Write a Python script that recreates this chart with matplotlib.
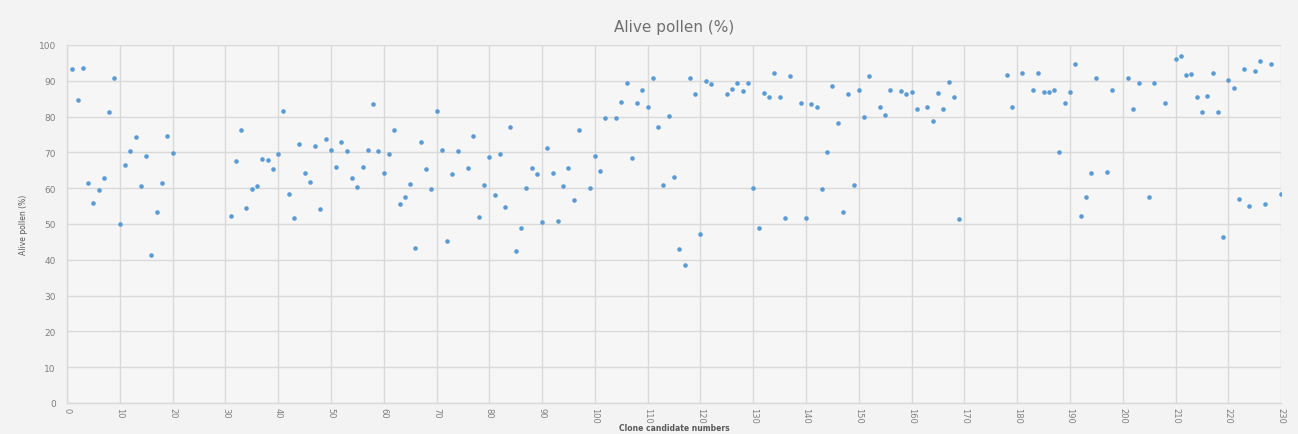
import numpy as np
import matplotlib
matplotlib.use('Agg')
import matplotlib.pyplot as plt

# Clone candidate numbers and alive pollen percentages
clone_a = [1, 2, 3, 4, 5, 6, 7, 8, 9, 10, 11, 12, 13, 14, 15, 16, 17, 18, 19, 20]
pollen_a = [93.2, 84.6, 93.7, 61.5, 55.9, 59.4, 62.9, 81.4, 90.9, 50.0,
            66.4, 70.3, 74.2, 60.6, 68.9, 41.4, 53.4, 61.5, 74.5, 69.8]

clone_b = [31, 32, 33, 34, 35, 36, 37, 38, 39, 40, 41, 42, 43, 44, 45, 46, 47, 48, 49, 50,
           51, 52, 53, 54, 55, 56, 57, 58, 59, 60, 61, 62, 63, 64, 65, 66, 67, 68, 69, 70,
           71, 72, 73, 74, 76, 77, 78, 79, 80, 81, 82, 83, 84, 85, 86, 87, 88, 89, 90, 91,
           92, 93, 94, 95, 96, 97, 99, 100]
pollen_b = [52.2, 67.5, 76.3, 54.6, 59.9, 60.6, 68.2, 68.0, 65.4, 69.6, 81.6, 58.3, 51.8, 72.4,
            64.3, 61.7, 71.9, 54.1, 73.8, 70.8, 65.9, 72.8, 70.5, 62.9, 60.3, 65.9, 70.8, 83.5,
            70.5, 64.3, 69.6, 76.3, 55.6, 57.6, 61.3, 43.3, 72.8, 65.4, 59.7, 81.5, 70.8, 45.2,
            64.1, 70.3, 65.7, 74.5, 52.0, 60.9, 68.7, 58.1, 69.6, 54.8, 77.0, 42.5, 48.8, 60.1,
            65.7, 64.1, 50.6, 71.2, 64.3, 50.9, 60.6, 65.7, 56.7, 76.3, 60.1, 68.9]

clone_c = [101, 102, 104, 105, 106, 107, 108, 109, 110, 111, 112, 113, 114, 115, 116, 117,
           118, 119, 120, 121, 122, 125, 126, 127, 128, 129, 130, 131, 132, 133, 134, 135,
           136, 137, 139, 140, 141, 142, 143, 144, 145, 146, 147, 148, 149, 150, 151, 152,
           154, 155, 156, 158, 159, 160, 161, 163, 164, 165, 166, 167, 168, 169]
pollen_c = [64.8, 79.6, 79.6, 84.0, 89.3, 68.5, 83.7, 87.4, 82.8, 90.9, 77.0, 60.9, 80.3, 63.1,
            43.0, 38.6, 90.9, 86.2, 47.2, 89.9, 89.0, 86.2, 87.6, 89.3, 87.2, 89.5, 60.0, 48.8,
            86.7, 85.6, 92.3, 85.6, 51.8, 91.2, 83.7, 51.8, 83.4, 82.8, 59.7, 70.1, 88.5, 78.1,
            53.4, 86.2, 60.9, 87.4, 79.8, 91.2, 82.6, 80.4, 87.4, 87.2, 86.2, 87.0, 82.1, 82.8,
            78.9, 86.5, 82.1, 89.7, 85.6, 51.3]

clone_d = [178, 179, 181, 183, 184, 185, 186, 187, 188, 189, 190, 191, 192, 193, 194, 195,
           197, 198, 201, 202, 203, 205, 206, 208, 210, 211, 212, 213, 214, 215, 216, 217,
           218, 219, 220, 221, 222, 223, 224, 225, 226, 227, 228, 230]
pollen_d = [91.6, 82.6, 92.3, 87.4, 92.1, 86.8, 86.8, 87.4, 70.1, 83.7, 87.0, 94.8, 52.2, 57.5,
            64.2, 90.9, 64.5, 87.4, 90.9, 82.1, 89.3, 57.5, 89.5, 83.7, 96.0, 96.9, 91.6, 91.8,
            85.6, 81.4, 85.8, 92.1, 81.4, 46.3, 90.2, 88.1, 56.9, 93.4, 55.0, 92.7, 95.5, 55.7,
            94.8, 58.3]

clones = clone_a + clone_b + clone_c + clone_d
pollen = pollen_a + pollen_b + pollen_c + pollen_d

x_ticks = list(range(0, 231, 10))
y_ticks = list(range(0, 101, 10))

text_gray = '#7f7f7f'
grid_gray = '#d9d9d9'

fig = plt.figure(figsize=(12.98, 4.35), dpi=100)
fig.patch.set_facecolor('#f3f3f3')
ax = fig.add_axes([0.0516, 0.0713, 0.9354, 0.8230])
ax.set_facecolor('#f6f6f6')

# Scatter of alive pollen per clone
ax.plot(clones, pollen, linestyle='none', marker='o', markersize=3.3,
        color='#5b9bd5', markeredgewidth=0)

ax.set_xlim(0, 230)
ax.set_ylim(0, 100)
ax.set_xticks(x_ticks)
ax.set_yticks(y_ticks)
ax.set_xticklabels([str(t) for t in x_ticks], rotation=-90, fontsize=6, color=text_gray)
ax.set_yticklabels([str(t) for t in y_ticks], fontsize=6.5, color=text_gray)
ax.tick_params(axis='x', length=0, pad=3)
ax.tick_params(axis='y', length=0, pad=8)

ax.grid(True, color=grid_gray, linewidth=1.0)
ax.set_axisbelow(True)
for side in ['top', 'right']:
    ax.spines[side].set_visible(False)
for side in ['left', 'bottom']:
    ax.spines[side].set_color(grid_gray)
    ax.spines[side].set_linewidth(1.0)

ax.set_title('Alive pollen (%)', fontsize=11, color='#6f6f6f', pad=10)
ax.set_xlabel('Clone candidate numbers', fontsize=5.5, color='#595959',
              fontweight='bold', labelpad=0)
ax.set_ylabel('Alive pollen (%)', fontsize=5.5, color='#595959', labelpad=8)

fig.savefig('out.png', dpi=100, facecolor=fig.get_facecolor())
